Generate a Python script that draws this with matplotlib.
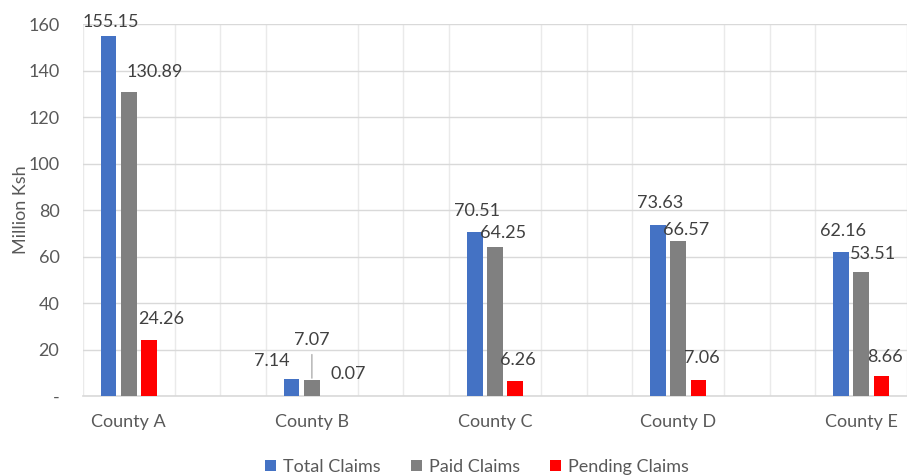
import numpy as np
import matplotlib
matplotlib.use("Agg")
import matplotlib.pyplot as plt

# data
counties = ['County A', 'County B', 'County C', 'County D', 'County E']
total_claims = [155.15, 7.14, 70.51, 73.63, 62.16]
paid_claims = [130.89, 7.07, 64.25, 66.57, 53.51]
pending_claims = [24.26, 0.07, 6.26, 7.06, 8.66]
y_ticks = [0, 20, 40, 60, 80, 100, 120, 140, 160]
y_tick_labels = ['-', '20', '40', '60', '80', '100', '120', '140', '160']

# label placement (pixels from bar top), as moved by hand in the original
total_off = [(2, 14), (-20, 18), (2, 21), (2, 22), (2, 21)]
paid_off = [(26, 20), (0, 40), (8, 14), (8, 11), (12, 18)]
pending_off = [(12, 21), (16, 22), (2, 21), (3, 22), (3, 19)]

plt.rcParams['font.family'] = ['Lato', 'DejaVu Sans']
FS = 13

fig = plt.figure(figsize=(9.07, 4.75), dpi=100)
ax = fig.add_axes([83 / 907, 79 / 475, 1 - 83 / 907, (396 - 24.3) / 475])

x = np.arange(len(counties))
w = 0.086
step = 0.111
series = [
    (total_claims, '#4472C4', 'Total Claims', total_off, -step),
    (paid_claims, '#808080', 'Paid Claims', paid_off, 0),
    (pending_claims, '#FF0000', 'Pending Claims', pending_off, step),
]

for vals, col, name, offs, dx in series:
    bars = ax.bar(x + dx, vals, width=w, color=col, label=name, zorder=3)
    for i, (b, v) in enumerate(zip(bars, vals)):
        ox, oy = offs[i]
        kw = {}
        if oy > 30:
            kw['arrowprops'] = dict(arrowstyle='-', color='#A6A6A6', lw=0.9,
                                    shrinkA=3, shrinkB=1)
        ax.annotate(f'{v:.2f}', xy=(b.get_x() + b.get_width() / 2, v),
                    xytext=(ox, oy), textcoords='offset pixels',
                    ha='center', va='center', fontsize=FS, color='#404040',
                    zorder=4, annotation_clip=False, **kw)

ax.set_ylim(0, 160)
ax.set_xlim(-0.25, 4.2)
ax.set_yticks(y_ticks)
ax.set_yticklabels(y_tick_labels)
ax.set_xticks(x)
ax.set_xticklabels(counties)
ax.set_xticks(np.arange(-0.25, 4.3, 0.25), minor=True)

ax.grid(axis='y', color='#D9D9D9', lw=1, zorder=0)
ax.grid(axis='x', which='minor', color='#EAEAEA', lw=1, zorder=0)
ax.tick_params(axis='both', which='both', length=0, labelsize=FS,
               labelcolor='#595959')
ax.tick_params(axis='y', pad=17)
ax.tick_params(axis='x', pad=13)
for s in ['top', 'right', 'left']:
    ax.spines[s].set_visible(False)
ax.spines['bottom'].set_color('#D9D9D9')
ax.spines['bottom'].set_linewidth(1.2)

fig.text(21 / 907, 1 - 210 / 475, 'Million Ksh', rotation=90, ha='center',
         va='center', fontsize=FS, color='#595959')

fig.legend(loc='center', bbox_to_anchor=(477 / 907, 8 / 475), ncol=3,
           frameon=False, fontsize=FS, handlelength=0.6, handleheight=0.6,
           handletextpad=0.4, columnspacing=1.65, labelcolor='#595959')

fig.savefig('out.png', dpi=100)
